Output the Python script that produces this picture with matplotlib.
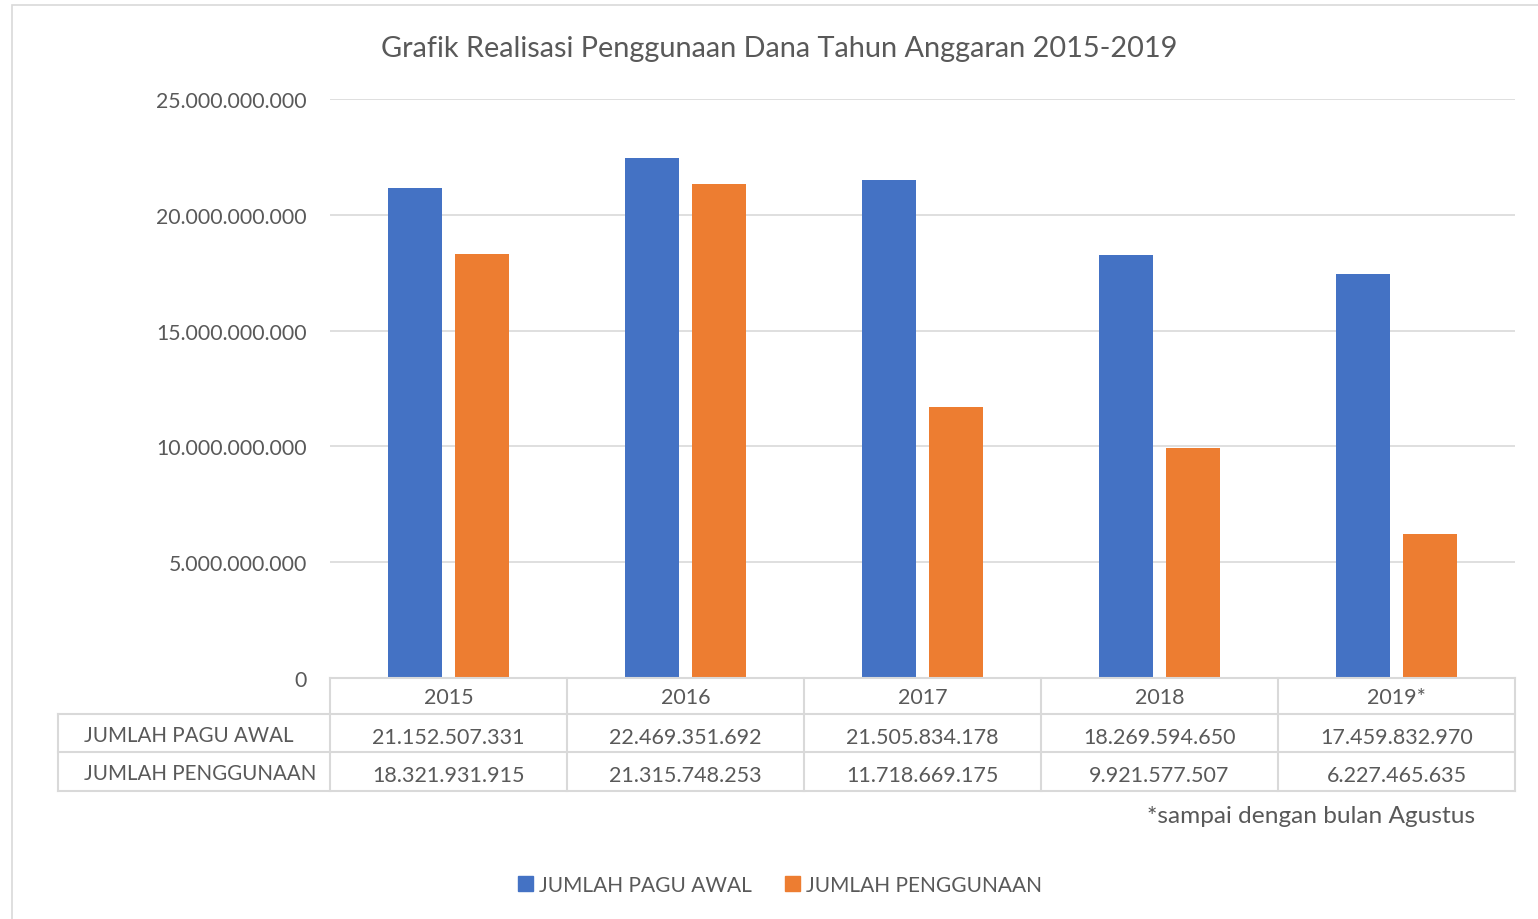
import matplotlib.pyplot as plt
from matplotlib.lines import Line2D
from matplotlib.patches import Rectangle
import numpy as np

plt.rcParams['font.family'] = ['Lato', 'DejaVu Sans']

years = ["2015", "2016", "2017", "2018", "2019*"]
pagu_awal = [21152507331, 22469351692, 21505834178, 18269594650, 17459832970]
penggunaan = [18321931915, 21315748253, 11718669175, 9921577507, 6227465635]
series_names = ["JUMLAH PAGU AWAL", "JUMLAH PENGGUNAAN"]
title = "Grafik Realisasi Penggunaan Dana Tahun Anggaran 2015-2019"
footnote = "*sampai dengan bulan Agustus"

BLUE = "#4472C4"
ORANGE = "#ED7D31"
GRID = "#D9D9D9"
TEXT = "#595959"


def fmt(v):
    return f"{int(v):,}".replace(",", ".")


W, H = 1538, 920
fig = plt.figure(figsize=(W / 100, H / 100), dpi=100)

# outer chart border
fig.add_artist(Rectangle((12 / W, -0.01), 1.0, 1 - 6 / H + 0.01, transform=fig.transFigure,
                         fill=False, edgecolor=GRID, linewidth=1.2))

ax_l, ax_r, ax_t, ax_b = 330, 1515, 100, 679
ax = fig.add_axes([ax_l / W, 1 - ax_b / H, (ax_r - ax_l) / W, (ax_b - ax_t) / H])

x = np.arange(len(years))
bw = 0.228
ax.bar(x - 0.143, pagu_awal, bw, color=BLUE, zorder=3)
ax.bar(x + 0.143, penggunaan, bw, color=ORANGE, zorder=3)

ax.set_xlim(-0.5, len(years) - 0.5)
ax.set_ylim(0, 25e9)
ticks = np.arange(0, 25e9 + 1, 5e9)
ax.set_yticks(ticks)
ax.set_yticklabels([fmt(t) for t in ticks], fontsize=15.3, color=TEXT)
ax.tick_params(axis='y', length=0, pad=16.5)
ax.set_xticks([])
ax.grid(axis='y', color=GRID, linewidth=1.2, zorder=0)
for s in ax.spines.values():
    s.set_visible(False)

fig.text(779 / W, 1 - 49 / H, title, ha='center', va='center', fontsize=20.8, color=TEXT)

# data table below the axes
def fx(px):
    return px / W


def fy(py):
    return 1 - py / H


col_edges = [ax_l + i * (ax_r - ax_l) / len(years) for i in range(len(years) + 1)]
row_edges = [679, 715, 753, 792]
lab_l = 58
tl = dict(transform=fig.transFigure, color=GRID, linewidth=1.5)
# horizontal lines
fig.add_artist(Line2D([fx(ax_l), fx(ax_r)], [fy(row_edges[0])] * 2, **tl))
for ry in row_edges[1:]:
    fig.add_artist(Line2D([fx(lab_l), fx(ax_r)], [fy(ry)] * 2, **tl))
# vertical lines
fig.add_artist(Line2D([fx(lab_l)] * 2, [fy(row_edges[1]), fy(row_edges[3])], **tl))
for cx in col_edges:
    fig.add_artist(Line2D([fx(cx)] * 2, [fy(row_edges[0]), fy(row_edges[3])], **tl))

for i, yr in enumerate(years):
    cx = (col_edges[i] + col_edges[i + 1]) / 2
    fig.text(fx(cx), fy((row_edges[0] + row_edges[1]) / 2 + 1), yr,
             ha='center', va='center', fontsize=15.5, color=TEXT)
    for r, vals in enumerate([pagu_awal, penggunaan]):
        fig.text(fx(cx), fy((row_edges[r + 1] + row_edges[r + 2]) / 2 + 4), fmt(vals[i]),
                 ha='center', va='center', fontsize=15.5, color=TEXT)
for r, name in enumerate(series_names):
    fig.text(fx(84), fy((row_edges[r + 1] + row_edges[r + 2]) / 2 + 2), name,
             ha='left', va='center', fontsize=14.8, color=TEXT)

fig.text(fx(1475), fy(817), footnote, ha='right', va='center', fontsize=17.6, color=TEXT)

handles = [Rectangle((0, 0), 1, 1, color=BLUE), Rectangle((0, 0), 1, 1, color=ORANGE)]
fig.legend(handles, series_names, loc='center', bbox_to_anchor=(fx(780), fy(886)),
           ncol=2, frameon=False, fontsize=15, labelcolor=TEXT,
           handlelength=0.7, handleheight=0.7, handletextpad=0.3, columnspacing=1.6)

fig.savefig("out.png", dpi=100)
